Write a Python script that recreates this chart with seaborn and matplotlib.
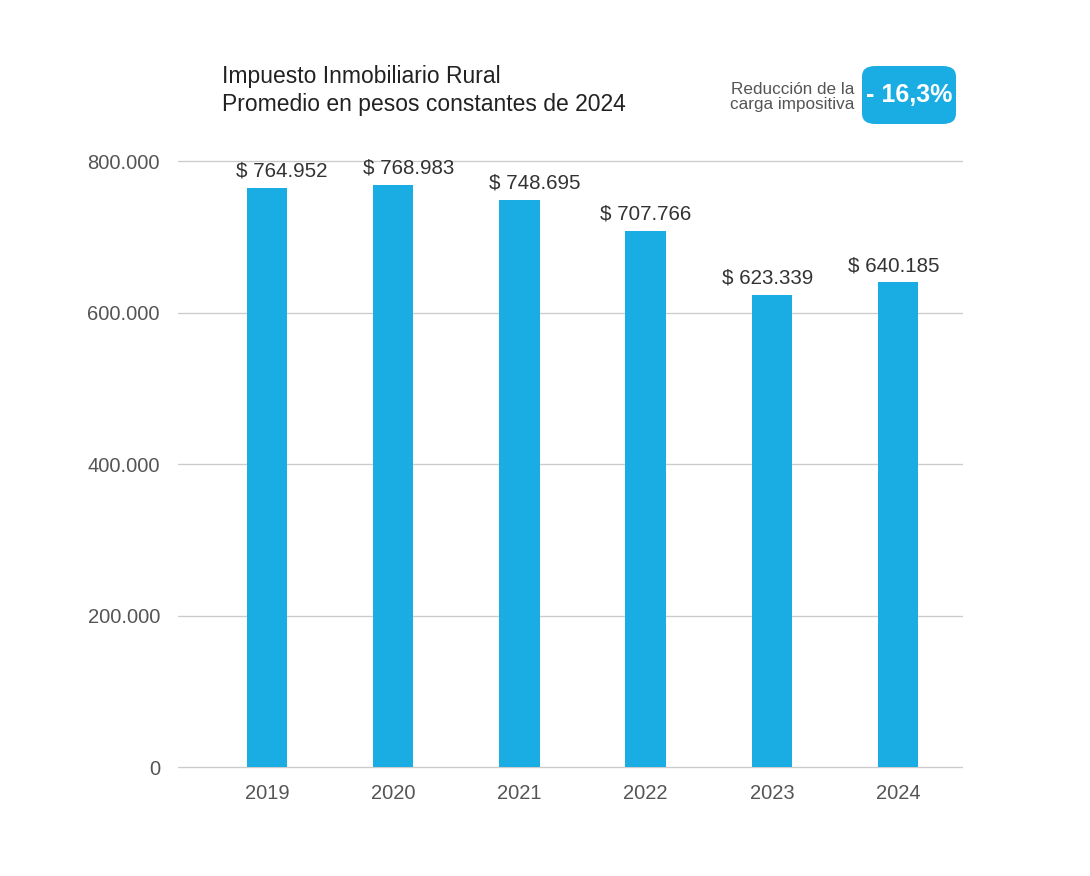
"""
Impuesto Inmobiliario Rural - promedio en pesos constantes de 2024
"""

import pandas as pd
import matplotlib.pyplot as plt
import seaborn as sns
from matplotlib.patches import FancyBboxPatch

# Datos
anios = ['2019', '2020', '2021', '2022', '2023', '2024']
promedio = [764952, 768983, 748695, 707766, 623339, 640185]
etiquetas = ['$ 764.952', '$ 768.983', '$ 748.695', '$ 707.766', '$ 623.339', '$ 640.185']
yticks = [0, 200000, 400000, 600000, 800000]
ytick_labels = ['0', '200.000', '400.000', '600.000', '800.000']

# corrimiento horizontal de las etiquetas (en pixeles), como en el original
corrimiento_px = [15, 15, 15, 0, -4, -4]

df = pd.DataFrame({'anio': anios, 'promedio': promedio})

sns.set_style('white')
plt.rcParams['font.family'] = ['Liberation Sans', 'DejaVu Sans']

azul = '#1AADE3'

fig = plt.figure(figsize=(10.9, 8.76), dpi=100)
ax = fig.add_axes([0.1633, 0.1244, 0.7193, 0.6918])

sns.barplot(data=df, x='anio', y='promedio', color=azul, width=0.32,
            saturation=1, ax=ax, zorder=3, linewidth=0, edgecolor='none')

ax.set_xlim(-0.705, 5.507)
ax.set_ylim(0, 800000)

# lineas de grilla
for t in yticks:
    ax.axhline(t, color='#cccccc', linewidth=1, zorder=1, clip_on=False)

for s in ax.spines.values():
    s.set_visible(False)

ax.set_yticks(yticks)
ax.set_yticklabels(ytick_labels)
ax.tick_params(axis='y', length=0, pad=13, labelsize=14.5, labelcolor='#555555')
ax.tick_params(axis='x', length=0, pad=12, labelsize=14.5, labelcolor='#555555')
ax.set_xlabel('')
ax.set_ylabel('')

# etiquetas de valores
for i, (v, lab, dx) in enumerate(zip(promedio, etiquetas, corrimiento_px)):
    ax.annotate(lab, (i, v), xytext=(dx * 0.72, 5), textcoords='offset points',
                ha='center', va='bottom', fontsize=14.8, color='#333333')

# titulo
fig.text(222 / 1090, 1 - 77 / 876, 'Impuesto Inmobiliario Rural', fontsize=16.5,
         color='#222222', ha='left', va='center')
fig.text(222 / 1090, 1 - 105 / 876, 'Promedio en pesos constantes de 2024', fontsize=16.5,
         color='#222222', ha='left', va='center')

# recuadro de reduccion
x0, y0, w, h = 862 / 1090, 1 - 124 / 876, 94 / 1090, 58 / 876
caja = FancyBboxPatch((x0, y0), w, h, boxstyle='round,pad=0,rounding_size=0.012',
                      transform=fig.transFigure, facecolor=azul, edgecolor='none')
fig.patches.append(caja)
fig.text(x0 + w / 2, y0 + h / 2, '- 16,3%', fontsize=18, fontweight='bold',
         color='white', ha='center', va='center')
fig.text(854 / 1090, 1 - 89 / 876, 'Reducción de la', fontsize=12.3,
         color='#555555', ha='right', va='center')
fig.text(854 / 1090, 1 - 104 / 876, 'carga impositiva', fontsize=12.3,
         color='#555555', ha='right', va='center')

plt.savefig('out.png', dpi=100)
